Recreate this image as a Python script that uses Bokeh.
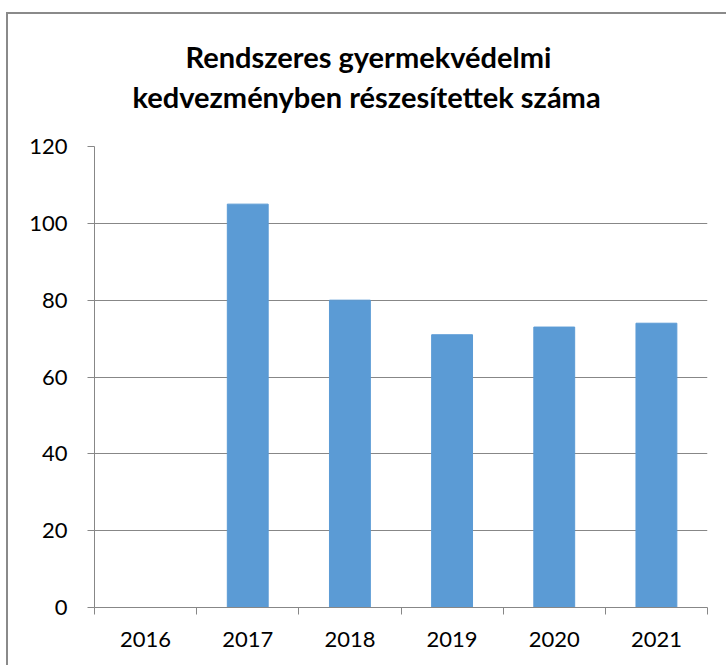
from bokeh.plotting import figure
from bokeh.models import FixedTicker, Spacer, ColumnDataSource, Range1d, Title
from bokeh.layouts import column, row
from bokeh.embed import file_html
from bokeh.resources import INLINE

years = ["2016", "2017", "2018", "2019", "2020", "2021"]
values = [0, 105, 80, 71, 73, 74]
y_ticks = [0, 20, 40, 60, 80, 100, 120]
title_lines = ["Rendszeres gyermekvédelmi", "kedvezményben részesítettek száma"]

FONT = "Lato"
GRAY = "#878787"

xs = [i + 0.5 for i in range(len(years))]
src = ColumnDataSource(dict(x=xs, top=values))

p = figure(width=720, height=653, output_backend="svg", toolbar_location=None,
           x_range=Range1d(0, len(years)), y_range=Range1d(0, 120),
           min_border_left=86, min_border_right=21, min_border_top=132, min_border_bottom=60)
p.title = None

# invisible gap between the title block and the plot frame
gap = Title(text=" ", text_font=FONT, text_font_size="10px", standoff=19)
t2 = Title(text=title_lines[1], align="left", offset=38, text_font=FONT, text_font_size="29px",
           text_font_style="bold", text_color="#000000", standoff=0)
t1 = Title(text=title_lines[0], align="left", offset=91, text_font=FONT, text_font_size="29px",
           text_font_style="bold", text_color="#000000", standoff=6)
p.add_layout(gap, "above")
p.add_layout(t2, "above")
p.add_layout(t1, "above")

p.vbar(x="x", top="top", width=0.4, bottom=0, source=src,
       fill_color="#5B9BD5", line_color="#5B9BD5")

p.outline_line_color = None
p.background_fill_color = "white"
p.border_fill_color = "white"

p.xgrid.grid_line_color = None
p.ygrid.ticker = FixedTicker(ticks=y_ticks[1:])
p.ygrid.grid_line_color = GRAY
p.ygrid.grid_line_width = 1

p.xaxis.ticker = FixedTicker(ticks=xs, minor_ticks=list(range(len(years) + 1)))
p.xaxis.major_label_overrides = {x: y for x, y in zip(xs, years)}
p.xaxis.major_tick_out = 0
p.xaxis.major_tick_in = 0
p.xaxis.minor_tick_out = 7
p.xaxis.minor_tick_in = 0
p.xaxis.minor_tick_line_color = GRAY
p.xaxis.axis_line_color = GRAY
p.xaxis.major_label_standoff = 17
p.xaxis.major_label_text_font = FONT
p.xaxis.major_label_text_font_size = "22px"
p.xaxis.major_label_text_color = "#000000"

p.yaxis.ticker = FixedTicker(ticks=y_ticks)
p.yaxis.major_tick_out = 7
p.yaxis.major_tick_in = 0
p.yaxis.minor_tick_line_color = None
p.yaxis.major_tick_line_color = GRAY
p.yaxis.axis_line_color = GRAY
p.yaxis.major_label_standoff = 20
p.yaxis.major_label_text_font = FONT
p.yaxis.major_label_text_font_size = "22px"
p.yaxis.major_label_text_color = "#000000"

p.styles = {"border-top": "2px solid #8a8a8a", "border-left": "2px solid #8a8a8a"}

layout = column(Spacer(height=12, width=727), row(Spacer(width=6, height=653), p))
open("out.html", "w").write(file_html(layout, INLINE))
